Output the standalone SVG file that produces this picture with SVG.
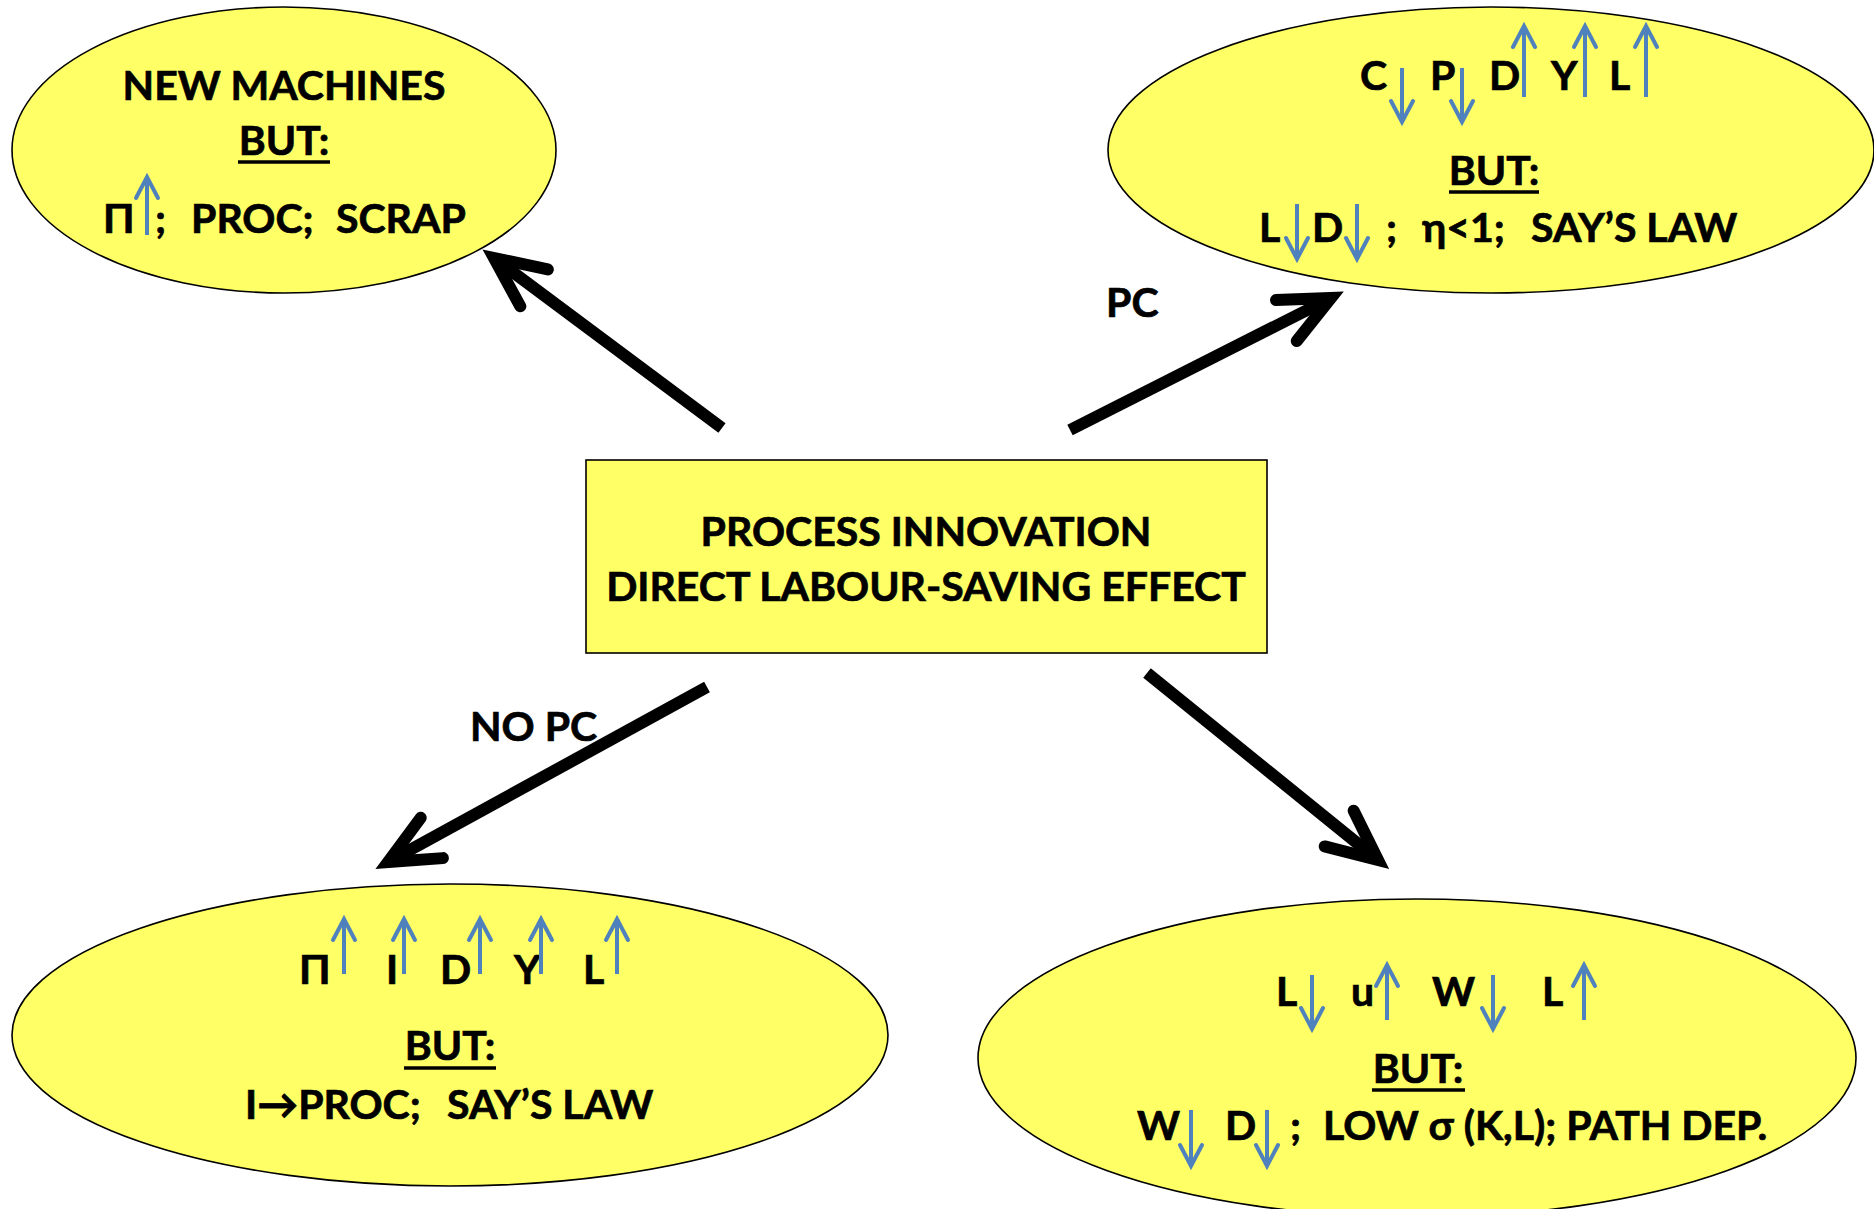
<svg xmlns="http://www.w3.org/2000/svg" width="1874" height="1209" viewBox="0 0 1874 1209">
  <style>
    .node { fill: #FFFF66; stroke: #000; stroke-width: 1.6; }
    .t { font-family: Lato, "Open Sans", "Liberation Sans", sans-serif; font-weight: bold; font-size: 41px; fill: #000; stroke: #000; stroke-width: 0.7; }
    .c { text-anchor: middle; }
    .ul { stroke: #000; stroke-width: 3.5; }
    .shaft { fill: none; stroke: #000; stroke-width: 12; stroke-linecap: butt; marker-end: url(#bigHead); }
    .trend { fill: none; stroke: #4F81BD; stroke-width: 4; marker-end: url(#smallHead); }
  </style>
  <defs>
    <marker id="bigHead" markerUnits="userSpaceOnUse" orient="auto" overflow="visible" markerWidth="1" markerHeight="1" refX="0" refY="0">
      <path d="M-50,-23 L0,0 L-50,23" fill="none" stroke="#000" stroke-width="12" stroke-linecap="round" stroke-linejoin="miter"/>
    </marker>
    <marker id="smallHead" markerUnits="userSpaceOnUse" orient="auto" overflow="visible" markerWidth="1" markerHeight="1" refX="0" refY="0">
      <path d="M-21,-11 L0,0 L-21,11" fill="none" stroke="#4F81BD" stroke-width="4" stroke-linecap="round" stroke-linejoin="miter"/>
    </marker>
  </defs>

  <rect width="1874" height="1209" fill="#fff"/>

  <!-- connectors -->
  <g id="connectors">
    <line class="shaft" x1="722" y1="428" x2="494" y2="258"/>
    <line class="shaft" x1="1070" y1="430" x2="1331" y2="298"/>
    <line class="shaft" x1="707" y1="687" x2="388" y2="862"/>
    <line class="shaft" x1="1147" y1="673" x2="1378" y2="860"/>
    <text class="t" x="1106" y="317">PC</text>
    <text class="t" x="470" y="741">NO PC</text>
  </g>

  <!-- central node -->
  <g id="process-innovation">
    <rect class="node" x="586" y="460" width="681" height="193"/>
    <text class="t c" x="926" y="546">PROCESS INNOVATION</text>
    <text class="t c" x="926" y="601">DIRECT LABOUR-SAVING EFFECT</text>
  </g>

  <!-- new machines -->
  <g id="new-machines">
    <ellipse class="node" cx="284" cy="150" rx="272" ry="143"/>
    <text class="t c" x="284" y="100">NEW MACHINES</text>
    <text class="t c" x="284" y="155">BUT:</text>
    <line class="ul" x1="238" y1="162" x2="330" y2="162"/>
    <text class="t" x="103" y="233">Π</text>
    <line class="trend" x1="147" y1="235" x2="147" y2="177"/>
    <text class="t" x="155" y="233">;</text>
    <text class="t" x="191" y="233">PROC;</text>
    <text class="t" x="336" y="233">SCRAP</text>
  </g>

  <!-- price compensation -->
  <g id="price-compensation">
    <ellipse class="node" cx="1491" cy="150" rx="383" ry="143"/>
    <text class="t" x="1360" y="90">C</text>
    <text class="t" x="1430" y="90">P</text>
    <text class="t" x="1489" y="90">D</text>
    <text class="t" x="1551" y="90">Y</text>
    <text class="t" x="1609" y="90">L</text>
    <line class="trend" x1="1402" y1="68" x2="1402" y2="122"/>
    <line class="trend" x1="1462" y1="68" x2="1462" y2="122"/>
    <line class="trend" x1="1524" y1="97" x2="1524" y2="26"/>
    <line class="trend" x1="1585" y1="97" x2="1585" y2="26"/>
    <line class="trend" x1="1646" y1="97" x2="1646" y2="26"/>
    <text class="t c" x="1494" y="185">BUT:</text>
    <line class="ul" x1="1449" y1="192" x2="1539" y2="192"/>
    <text class="t" x="1259" y="242">L</text>
    <line class="trend" x1="1297" y1="204" x2="1297" y2="259"/>
    <text class="t" x="1312" y="242">D</text>
    <line class="trend" x1="1357" y1="204" x2="1357" y2="259"/>
    <text class="t" x="1386" y="242">;</text>
    <text class="t" x="1422" y="242">η&lt;1;</text>
    <text class="t" x="1531" y="242">SAY’S LAW</text>
  </g>

  <!-- no price compensation -->
  <g id="no-price-compensation">
    <ellipse class="node" cx="450" cy="1035" rx="438" ry="151"/>
    <text class="t" x="299" y="984">Π</text>
    <text class="t" x="386" y="984">I</text>
    <text class="t" x="440" y="984">D</text>
    <text class="t" x="514" y="984">Y</text>
    <text class="t" x="583" y="984">L</text>
    <line class="trend" x1="344" y1="974" x2="344" y2="919"/>
    <line class="trend" x1="404" y1="974" x2="404" y2="919"/>
    <line class="trend" x1="480" y1="974" x2="480" y2="919"/>
    <line class="trend" x1="541" y1="974" x2="541" y2="919"/>
    <line class="trend" x1="617" y1="974" x2="617" y2="919"/>
    <text class="t c" x="450" y="1060">BUT:</text>
    <line class="ul" x1="404" y1="1068" x2="496" y2="1068"/>
    <text class="t" x="245" y="1119">I→PROC;</text>
    <text class="t" x="447" y="1119">SAY’S LAW</text>
  </g>

  <!-- wage and labour market -->
  <g id="labour-market">
    <ellipse class="node" cx="1417" cy="1058" rx="439" ry="159"/>
    <text class="t" x="1276" y="1006">L</text>
    <text class="t" x="1351" y="1006">u</text>
    <text class="t" x="1432" y="1006">W</text>
    <text class="t" x="1542" y="1006">L</text>
    <line class="trend" x1="1312" y1="975" x2="1312" y2="1029"/>
    <line class="trend" x1="1493" y1="975" x2="1493" y2="1029"/>
    <line class="trend" x1="1387" y1="1020" x2="1387" y2="965"/>
    <line class="trend" x1="1584" y1="1020" x2="1584" y2="965"/>
    <text class="t c" x="1418" y="1083">BUT:</text>
    <line class="ul" x1="1372" y1="1090" x2="1465" y2="1090"/>
    <text class="t" x="1137" y="1140">W</text>
    <line class="trend" x1="1191" y1="1110" x2="1191" y2="1166"/>
    <text class="t" x="1225" y="1140">D</text>
    <line class="trend" x1="1267" y1="1110" x2="1267" y2="1166"/>
    <text class="t" x="1290" y="1140">;</text>
    <text class="t" x="1323" y="1140">LOW σ (K,L); PATH DEP.</text>
  </g>
</svg>
